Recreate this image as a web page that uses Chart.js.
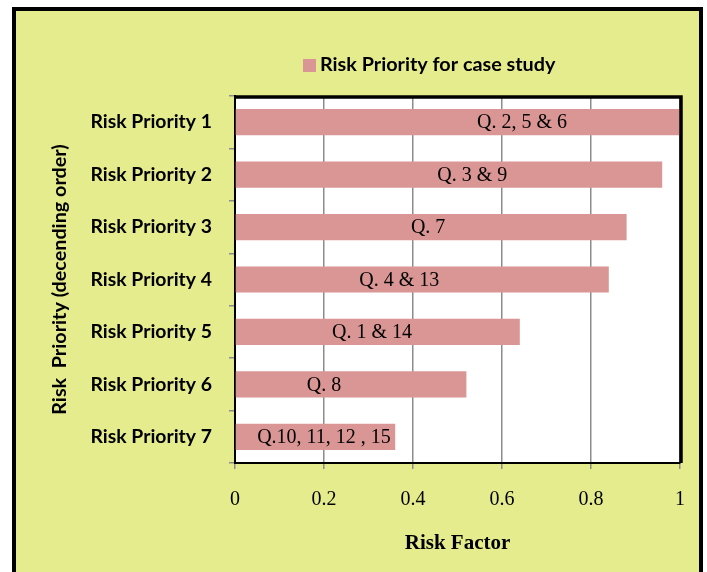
<!DOCTYPE html>
<html>
<head>
<meta charset="utf-8">
<script src="https://cdn.jsdelivr.net/npm/chart.js@4.4.1/dist/chart.umd.min.js"></script>
<style>
  html, body { margin: 0; padding: 0; background: #ffffff; overflow: hidden; }
  #frame {
    position: absolute; left: 12px; top: 7px;
    width: 683px; height: 620px;
    border: 4px solid #000000;
    background: #e5ec8d;
  }
  #wrap { position: absolute; left: 0; top: 0; width: 707px; height: 572px; }
</style>
</head>
<body>
<div id="frame"></div>
<div id="wrap"><canvas id="chart" width="707" height="572"></canvas></div>
<script>
// Risk priorities in descending order
const categories = [
  'Risk Priority 1', 'Risk Priority 2', 'Risk Priority 3', 'Risk Priority 4',
  'Risk Priority 5', 'Risk Priority 6', 'Risk Priority 7'
];
// Risk factor of each priority
const riskFactor = [1.0, 0.96, 0.88, 0.84, 0.64, 0.52, 0.36];
// Questions grouped under each priority
const questionLabels = [
  'Q. 2, 5 & 6', 'Q. 3 & 9', 'Q. 7', 'Q. 4 & 13',
  'Q. 1 & 14', 'Q. 8', 'Q.10, 11, 12 , 15'
];
// Risk factor axis ticks
const xTicks = [0, 0.2, 0.4, 0.6, 0.8, 1];

const seriesName = 'Risk Priority for case study';
const barColor = '#d99694';
const sansBold = 'Lato, "Open Sans", sans-serif';
const serif = '"Liberation Serif", "Times New Roman", serif';

// White plot area, heavy frame on top / right
const plotFrame = {
  id: 'plotFrame',
  beforeDraw(chart) {
    const { ctx, chartArea: a } = chart;
    ctx.save();
    ctx.fillStyle = '#ffffff';
    ctx.fillRect(a.left, a.top, a.right - a.left, a.bottom - a.top);
    ctx.restore();
  },
  afterDraw(chart) {
    const { ctx, chartArea: a } = chart;
    ctx.save();
    ctx.strokeStyle = '#000000';
    ctx.lineWidth = 3.5;
    ctx.beginPath();
    ctx.moveTo(a.left, a.top + 1);
    ctx.lineTo(a.right + 1, a.top + 1);
    ctx.lineTo(a.right + 1, a.bottom);
    ctx.stroke();
    ctx.restore();
  }
};

// Question labels written inside the bars
const barText = {
  id: 'barText',
  afterDatasetsDraw(chart, args, opts) {
    const { ctx } = chart;
    const meta = chart.getDatasetMeta(0);
    const xs = chart.scales.x;
    ctx.save();
    ctx.font = opts.font;
    ctx.fillStyle = '#000000';
    ctx.textAlign = 'center';
    ctx.textBaseline = 'middle';
    meta.data.forEach((bar, i) => {
      const x = xs.getPixelForValue(opts.anchors[i]);
      ctx.fillText(questionLabels[i], x, bar.y + 1);
    });
    ctx.restore();
  }
};

// Series key above the plot
const seriesKey = {
  id: 'seriesKey',
  afterDraw(chart, args, opts) {
    const { ctx } = chart;
    const ds = chart.data.datasets[0];
    ctx.save();
    ctx.fillStyle = ds.backgroundColor;
    ctx.fillRect(opts.x, opts.y - 6, 13, 13);
    ctx.fillStyle = '#000000';
    ctx.font = opts.font;
    ctx.textAlign = 'left';
    ctx.textBaseline = 'middle';
    ctx.fillText(ds.label, opts.x + 17, opts.y);
    ctx.restore();
  }
};

new Chart(document.getElementById('chart'), {
  type: 'bar',
  data: {
    labels: categories,
    datasets: [{
      label: seriesName,
      data: riskFactor,
      backgroundColor: barColor,
      borderWidth: 0,
      categoryPercentage: 1.0,
      barPercentage: 0.5
    }]
  },
  options: {
    indexAxis: 'y',
    responsive: false,
    animation: false,
    devicePixelRatio: 1,
    layout: { padding: { left: 16, top: 96, right: 27, bottom: 0 } },
    plugins: {
      legend: { display: false },
      tooltip: { enabled: false },
      barText: {
        font: '20px ' + serif,
        anchors: [0.645, 0.533, 0.434, 0.369, 0.308, 0.2, 0.2]
      },
      seriesKey: { x: 303, y: 65, font: 'bold 19.8px ' + sansBold }
    },
    scales: {
      x: {
        type: 'linear',
        min: 0,
        max: 1,
        afterBuildTicks(scale) { scale.ticks = xTicks.map(v => ({ value: v })); },
        afterFit(scale) { scale.height = 109; },
        ticks: {
          color: '#000000',
          padding: 19,
          font: { family: serif, size: 20 },
          callback: v => String(v)
        },
        grid: { color: '#8c8c8c', lineWidth: 1.5, tickLength: 6 },
        border: { display: true, color: '#000000', width: 2 },
        title: {
          display: true,
          text: 'Risk Factor',
          color: '#000000',
          font: { family: serif, size: 21, weight: 'bold' },
          padding: { top: 0, bottom: 16 }
        }
      },
      y: {
        afterFit(scale) { scale.width = 219; },
        ticks: {
          color: '#000000',
          padding: 17,
          font: { family: sansBold, size: 19.4, weight: 'bold' }
        },
        grid: { offset: true, drawOnChartArea: false, color: '#8c8c8c', lineWidth: 1.5, tickLength: 6 },
        border: { display: true, color: '#000000', width: 2 },
        title: {
          display: true,
          text: 'Risk  Priority (decending order)',
          color: '#000000',
          font: { family: sansBold, size: 19.8, weight: 'bold' },
          padding: { top: 32, bottom: 0 }
        }
      }
    }
  },
  plugins: [plotFrame, barText, seriesKey]
});
</script>
</body>
</html>
